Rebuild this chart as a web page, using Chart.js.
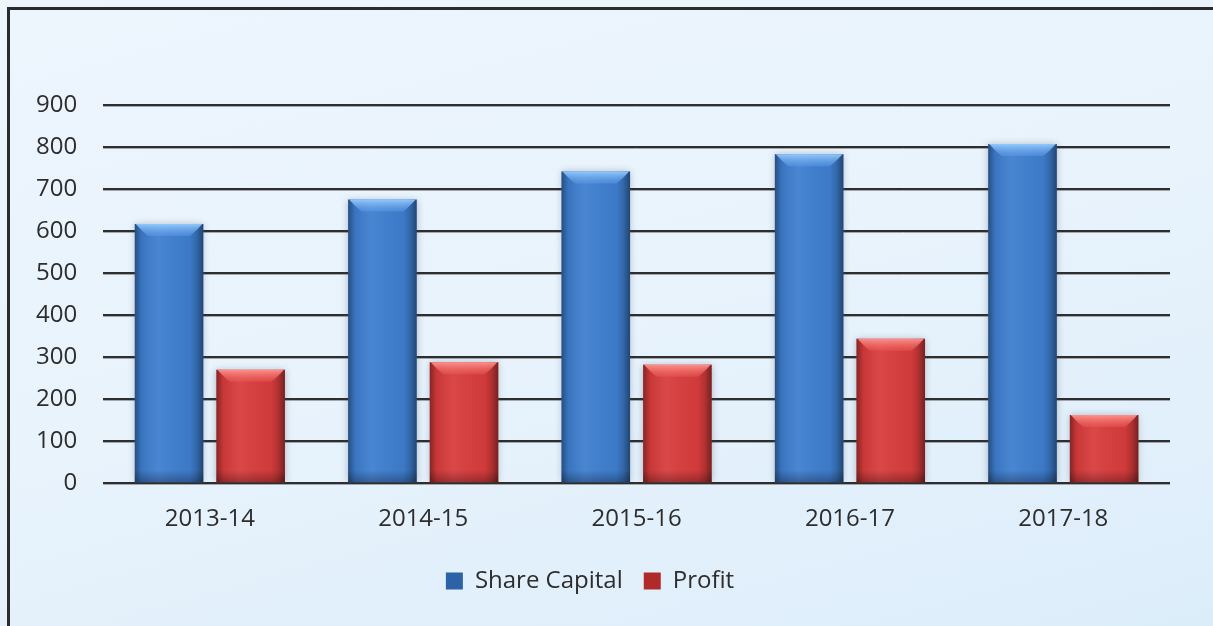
<!DOCTYPE html>
<html>
<head>
<meta charset="utf-8">
<script src="https://cdn.jsdelivr.net/npm/chart.js@4.4.1/dist/chart.umd.min.js"></script>
<style>
  html, body { margin: 0; padding: 0; }
  body {
    width: 1213px; height: 626px; overflow: hidden; position: relative;
    background: linear-gradient(165deg, #edf5fd 0%, #e8f3fc 50%, #dcedfa 100%);
  }
  #frame {
    position: absolute; left: 7px; top: 7px; width: 1240px; height: 660px;
    border-top: 3px solid #2b2b2b; border-left: 3px solid #2b2b2b;
  }
  #wrap { position: absolute; left: 0; top: 0; width: 1213px; height: 626px; }
</style>
</head>
<body>
<div id="frame"></div>
<div id="wrap"><canvas id="chart"></canvas></div>
<script>
// Dữ liệu
const years = ['2013-14', '2014-15', '2015-16', '2016-17', '2017-18'];
const shareCapital = [617, 675, 742, 783, 807];
const profit = [270, 288, 282, 344, 162];
const yTicks = [0, 100, 200, 300, 400, 500, 600, 700, 800, 900];

const textColor = '#2d2d2d';
const fontFamily = '"Open Sans", "Noto Sans", sans-serif';

// Bóng đổ nhẹ quanh cột + vệt sáng dưới đường lưới
const barShadow = {
  id: 'barShadow',
  beforeDatasetsDraw(chart) {
    const ctx = chart.ctx;
    const y = chart.scales.y;
    const a = chart.chartArea;
    ctx.save();
    ctx.strokeStyle = '#a3a7ab';
    ctx.lineWidth = 1;
    yTicks.forEach(v => {
      const py = Math.round(y.getPixelForValue(v)) + 1.5;
      ctx.beginPath();
      ctx.moveTo(a.left, py);
      ctx.lineTo(a.right, py);
      ctx.stroke();
    });
    ctx.restore();
    ctx.save();
    ctx.shadowColor = 'rgba(60,70,90,0.35)';
    ctx.shadowBlur = 7;
  },
  afterDatasetsDraw(chart) {
    const ctx = chart.ctx;
    ctx.restore();
    // hiệu ứng vát cạnh kiểu 3D
    chart.data.datasets.forEach((ds, i) => {
      const meta = chart.getDatasetMeta(i);
      meta.data.forEach(bar => {
        const l = bar.x - bar.width / 2, r = bar.x + bar.width / 2;
        const t = bar.y, b = bar.base, w = r - l;
        ctx.save();
        const g = ctx.createLinearGradient(l, 0, r, 0);
        g.addColorStop(0, 'rgba(0,0,0,0.38)');
        g.addColorStop(0.1, 'rgba(0,0,0,0.08)');
        g.addColorStop(0.35, 'rgba(255,255,255,0.06)');
        g.addColorStop(0.8, 'rgba(0,0,0,0.03)');
        g.addColorStop(0.9, 'rgba(0,0,0,0.18)');
        g.addColorStop(1, 'rgba(0,0,0,0.45)');
        ctx.fillStyle = g;
        ctx.fillRect(l, t, w, b - t);
        const gb = ctx.createLinearGradient(0, b - 12, 0, b);
        gb.addColorStop(0, 'rgba(0,0,0,0)');
        gb.addColorStop(1, 'rgba(0,0,0,0.28)');
        ctx.fillStyle = gb;
        ctx.fillRect(l, b - 12, w, 12);
        const bev = 12;
        const gt = ctx.createLinearGradient(0, t, 0, t + bev);
        gt.addColorStop(0, ds.bevelTop);
        gt.addColorStop(1, ds.bevelBottom);
        ctx.fillStyle = gt;
        ctx.beginPath();
        ctx.moveTo(l + 1, t);
        ctx.lineTo(r - 1, t);
        ctx.quadraticCurveTo(r - bev + 2, t + bev - 2, r - bev - 2, t + bev);
        ctx.lineTo(l + bev + 2, t + bev);
        ctx.quadraticCurveTo(l + bev - 2, t + bev - 2, l + 1, t);
        ctx.closePath();
        ctx.fill();
        ctx.restore();
      });
    });
  }
};

new Chart(document.getElementById('chart'), {
  type: 'bar',
  data: {
    labels: years,
    datasets: [{
      label: 'Share Capital',
      data: shareCapital,
      backgroundColor: '#3e7ecf',
      legendColor: '#2c62a6',
      bevelTop: 'rgba(150,205,255,0.95)',
      bevelBottom: 'rgba(95,155,230,0.45)',
      borderWidth: 0,
      categoryPercentage: 0.765,
      barPercentage: 0.84
    }, {
      label: 'Profit',
      data: profit,
      backgroundColor: '#d83c3c',
      legendColor: '#b02a2a',
      bevelTop: 'rgba(255,150,145,0.95)',
      bevelBottom: 'rgba(235,90,85,0.45)',
      borderWidth: 0,
      categoryPercentage: 0.765,
      barPercentage: 0.84
    }]
  },
  options: {
    responsive: true,
    maintainAspectRatio: false,
    animation: false,
    layout: { padding: { left: 10, right: 43, top: 105, bottom: 23 } },
    scales: {
      x: {
        grid: { display: false },
        border: { display: false },
        ticks: { color: textColor, font: { family: fontFamily, size: 24 }, padding: 14 }
      },
      y: {
        min: 0,
        max: 900,
        afterBuildTicks(scale) { scale.ticks = yTicks.map(v => ({ value: v })); },
        grid: { color: '#2e2e2e', lineWidth: 2, drawTicks: false },
        border: { display: false },
        ticks: { color: textColor, font: { family: fontFamily, size: 24 }, padding: 26 }
      }
    },
    plugins: {
      legend: {
        position: 'bottom',
        labels: {
          color: textColor,
          font: { family: fontFamily, size: 24 },
          boxWidth: 17,
          boxHeight: 17,
          padding: 21,
          generateLabels(chart) {
            return chart.data.datasets.map((ds, i) => ({
              text: ds.label,
              fillStyle: ds.legendColor,
              strokeStyle: ds.legendColor,
              lineWidth: 0,
              fontColor: textColor,
              datasetIndex: i
            }));
          }
        }
      },
      tooltip: { enabled: false }
    }
  },
  plugins: [barShadow]
});
</script>
</body>
</html>
